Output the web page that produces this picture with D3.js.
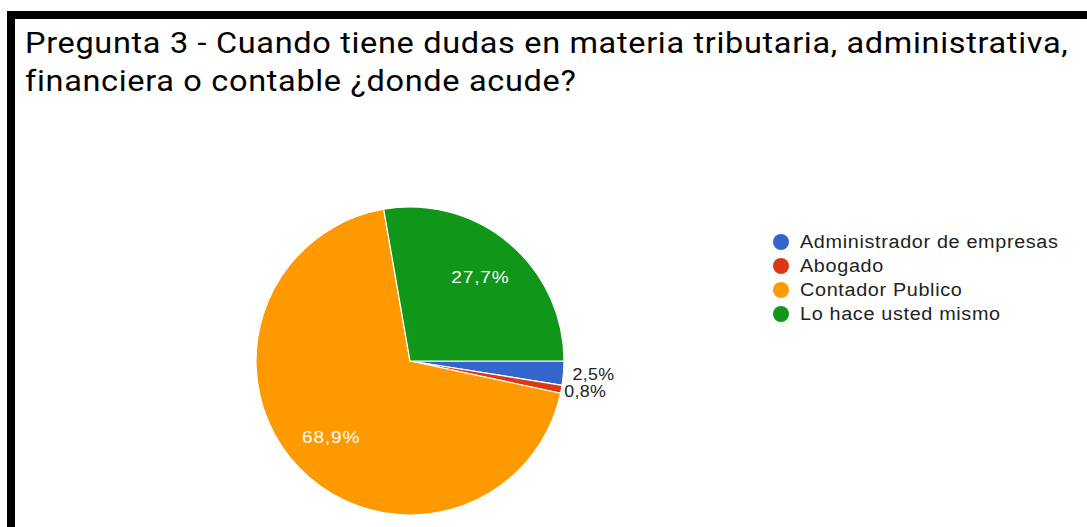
<!DOCTYPE html>
<html>
<head>
<meta charset="utf-8">
<script src="https://cdn.jsdelivr.net/npm/d3@7"></script>
<style>
  html, body { margin: 0; padding: 0; background: #fff; }
  svg { display: block; }
</style>
</head>
<body>
<svg id="chart" width="1087" height="527"></svg>
<script>
// data (counts, n = 119)
const categories = ["Administrador de empresas", "Abogado", "Contador Publico", "Lo hace usted mismo"];
const counts = [3, 1, 82, 33];
const colors = ["#3366cc", "#dc3912", "#ff9900", "#109618"];
const titleLines = [
  "Pregunta 3 - Cuando tiene dudas en materia tributaria, administrativa,",
  "financiera o contable ¿donde acude?"
];

const width = 1087, height = 527;
const svg = d3.select("#chart");

// the screenshot text is wider than the fonts here: add a bit of letter spacing, then widen the glyphs
const widen = (sel, k, ls) => sel.each(function () {
  const t = d3.select(this).attr("letter-spacing", ls);
  const w = this.getComputedTextLength();
  t.attr("textLength", w * k).attr("lengthAdjust", "spacingAndGlyphs");
});

// black frame (top and left edges)
svg.append("rect").attr("x", 7).attr("y", 11).attr("width", width - 7).attr("height", 8).attr("fill", "#000");
svg.append("rect").attr("x", 7).attr("y", 11).attr("width", 8).attr("height", height - 11).attr("fill", "#000");

// title
svg.append("g")
  .attr("font-family", "Roboto, 'Noto Sans', sans-serif")
  .attr("font-size", 29)
  .attr("fill", "#000")
  .selectAll("text")
  .data(titleLines)
  .join("text")
  .attr("x", 25)
  .attr("y", (d, i) => 53 + i * 38)
  .text(d => d)
  .call(widen, 1.12, 0.6);

// pie
const cx = 410, cy = 361, r = 154;
const total = d3.sum(counts);
const fmt = v => d3.format(".1f")(v * 100).replace(".", ",") + "%";

const pie = d3.pie().sort(null).value(d => d.value)
  .startAngle(Math.PI / 2).endAngle(Math.PI / 2 + 2 * Math.PI);
const arcs = pie(categories.map((c, i) => ({ name: c, value: counts[i], color: colors[i] })));

const arc = d3.arc().innerRadius(0).outerRadius(r);
const labelArc = d3.arc().innerRadius(r * 0.71).outerRadius(r * 0.71);

const g = svg.append("g").attr("transform", `translate(${cx},${cy})`);

g.selectAll("path")
  .data(arcs)
  .join("path")
  .attr("d", arc)
  .attr("fill", d => d.data.color)
  .attr("stroke", "#fff")
  .attr("stroke-width", 1.2);

const labelFont = "'Liberation Sans', Arial, sans-serif";

// labels inside the big slices
g.selectAll("text.inside")
  .data(arcs.filter(d => d.value / total > 0.05))
  .join("text")
  .attr("class", "inside")
  .attr("transform", d => `translate(${labelArc.centroid(d)})`)
  .attr("text-anchor", "middle")
  .attr("dy", "0.35em")
  .attr("font-family", labelFont)
  .attr("font-size", 17)
  .attr("fill", "#fff")
  .text(d => fmt(d.value / total))
  .call(widen, 1.12, 0.8);

// labels outside the small slices
const outR = r + 9;
g.selectAll("text.outside")
  .data(arcs.filter(d => d.value / total <= 0.05))
  .join("text")
  .attr("class", "outside")
  .attr("x", (d, i) => Math.sin((d.startAngle + d.endAngle) / 2) * (outR - i * 6))
  .attr("y", d => -Math.cos((d.startAngle + d.endAngle) / 2) * outR)
  .attr("dy", "0.35em")
  .attr("font-family", labelFont)
  .attr("font-size", 17)
  .attr("fill", "#222")
  .text(d => fmt(d.value / total))
  .call(widen, 1.05, 0.3);

// legend
const legend = svg.append("g")
  .attr("font-family", labelFont)
  .attr("font-size", 18)
  .attr("fill", "#222");

const rows = legend.selectAll("g")
  .data(categories)
  .join("g")
  .attr("transform", (d, i) => `translate(781,${242 + i * 24})`);

rows.append("circle").attr("r", 8).attr("fill", (d, i) => colors[i]);
rows.append("text").attr("x", 19).attr("dy", "0.35em").text(d => d).call(widen, 1.1, 0.6);
</script>
</body>
</html>
